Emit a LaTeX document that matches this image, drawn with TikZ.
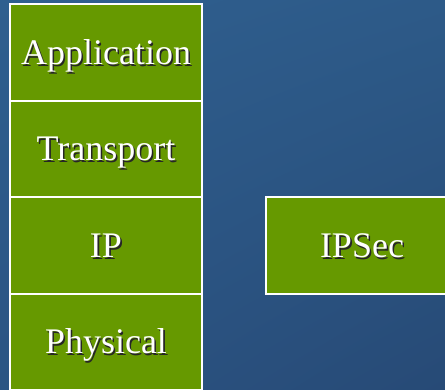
\documentclass[tikz,border=0pt]{standalone}
\usepackage{fontspec}
\setmainfont{Liberation Serif}
\usepackage{tikz}
\usetikzlibrary{positioning}
\usetikzlibrary{shadings}

\definecolor{bgtopleft}{HTML}{2F5F8F}
\definecolor{bgtopright}{HTML}{2D5A88}
\definecolor{bgbotleft}{HTML}{2B5483}
\definecolor{bgbotright}{HTML}{274A76}
\definecolor{layergreen}{HTML}{669900}

\newcommand{\shadowed}[1]{\makebox[0pt][l]{\hspace{1.6pt}\raisebox{-1.6pt}{\color{black!85}#1}}#1}

\tikzset{
    layer/.style={draw=white, line width=2pt, fill=layergreen, text=white,
        minimum width=192pt, minimum height=96.5pt, inner sep=0pt, outer sep=0pt,
        text height=24pt, text depth=0pt,
        font=\rmfamily\fontsize{36}{40}\selectfont},
}

\begin{document}
\begin{tikzpicture}[x=1pt, y=1pt]
    \useasboundingbox (0, 0) rectangle (445, -390);
    \clip (0, 0) rectangle (445, -390);
    \shade [upper left=bgtopleft, upper right=bgtopright,
        lower left=bgbotleft, lower right=bgbotright] (0, 0) rectangle (445, -390);

    \node [layer] (app) at (106, -52.5) {\shadowed{Application}};
    \node [layer] (transport) [below=0pt of app] {\shadowed{Transport}};
    \node [layer] (ip) [below=0pt of transport] {\shadowed{IP}};
    \node [layer] (phys) [below=0pt of ip] {\shadowed{Physical}};

    \node [layer] (ipsec) [right=64pt of ip] {\shadowed{IPSec}}; % runs off the right edge
\end{tikzpicture}
\end{document}
